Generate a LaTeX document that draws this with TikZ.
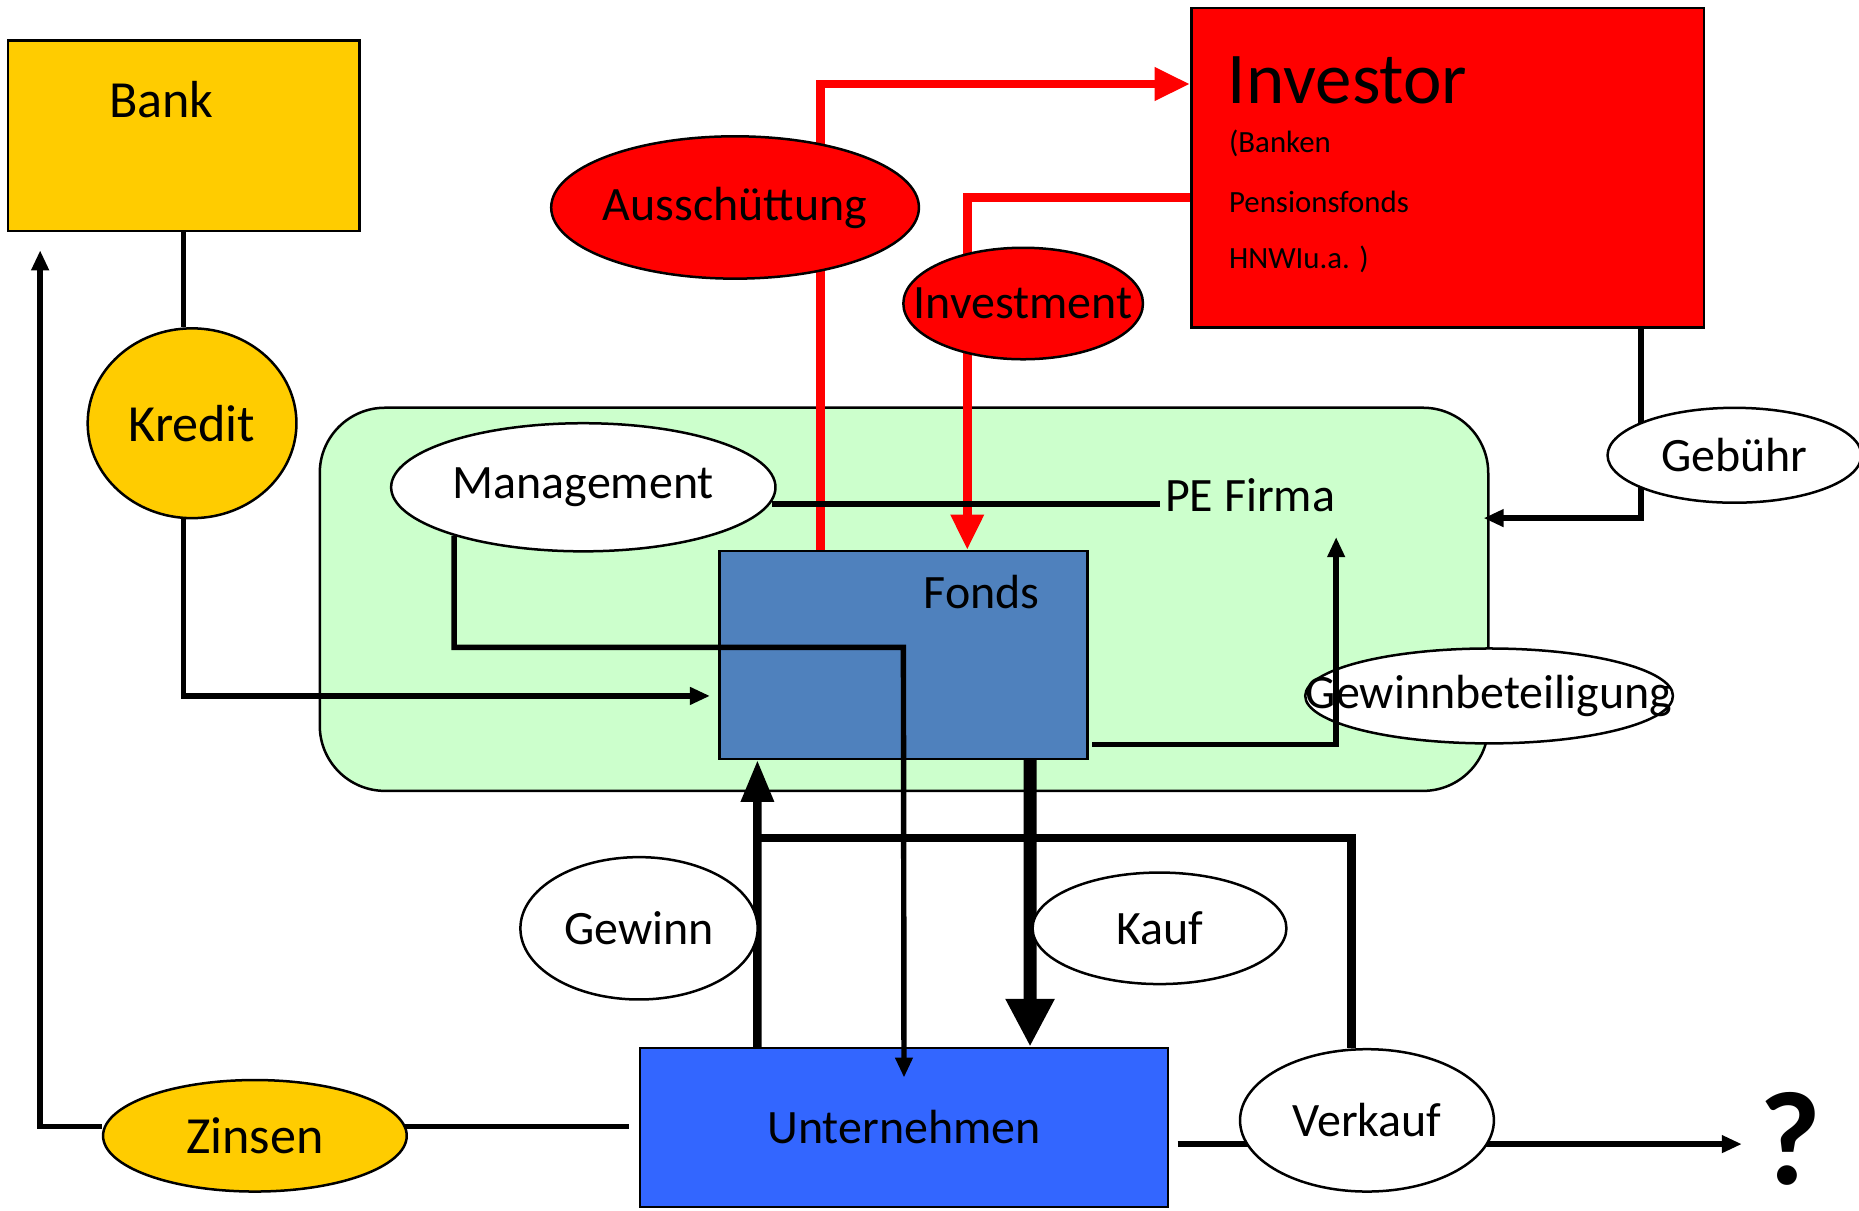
\documentclass[tikz,border=0pt]{standalone}
\usepackage{fontspec}
\setmainfont{Carlito}
\usepackage{tikz}
\usetikzlibrary{arrows.meta,shapes.geometric,calc}
\definecolor{bankgelb}{HTML}{FFCC00}
\definecolor{investrot}{HTML}{FF0000}
\definecolor{pegruen}{HTML}{CCFFCC}
\definecolor{fondsblau}{HTML}{4F81BD}
\definecolor{firmablau}{HTML}{3366FF}
\pgfdeclarelayer{hinten}
\pgfdeclarelayer{vorne}
\pgfsetlayers{hinten,main,vorne}
\tikzset{
	kasten/.style={draw=black,line width=0.6pt,rectangle,inner sep=0pt},
	schrift/.style={inner sep=0pt,font=\fontsize{11.5}{14}\selectfont},
	oval/.style={draw=black,line width=0.6pt,ellipse,inner sep=0pt,fill=white,font=\fontsize{11.5}{14}\selectfont,
		execute at begin node={\hbox to 0pt\bgroup\hss\lower1pt\hbox\bgroup},execute at end node={\egroup\hss\egroup}},
	verb/.style={line width=1.3pt},
	pfeil/.style={verb,->},
	rotpfeil/.style={-{Triangle[length=8.5pt,width=7.5pt]},draw=red,line width=2.1pt},
	dick/.style={line width=2pt},
	dickpfeil/.style={dick,-{Triangle[length=10pt,width=7.5pt]}},
	kaufpfeil/.style={-{Triangle[length=11.5pt,width=11pt]},line width=3.1pt}
}

\begin{document}
\begin{tikzpicture}[>={Triangle[length=4.8pt,width=4pt]},x=0.01cm,y=-0.01cm]
		\useasboundingbox (0,0) rectangle (1568,1021);
		%Kaesten
		\begin{pgfonlayer}{hinten}
		\node[kasten,fill=pegruen,rounded corners=0.55cm,minimum width=9.85cm,minimum height=3.23cm] (pe) at (762.5,505.5) {};
		\node[kasten,fill=bankgelb,minimum width=2.96cm,minimum height=1.61cm] (bank) at (155,114.5) {};
		\node[kasten,fill=investrot,minimum width=4.32cm,minimum height=2.69cm] (investor) at (1221,141.5) {};
		\node[kasten,fill=fondsblau,minimum width=3.10cm,minimum height=1.75cm] (fonds) at (762,552.5) {};
		\node[kasten,fill=firmablau,minimum width=4.45cm,minimum height=1.34cm,schrift] (untern) at (762.5,951) {Unternehmen};
		\node[schrift,font=\fontsize{12.5}{15}\selectfont] (banktext) at (136,84) {Bank};
		\node[schrift,font=\fontsize{17.5}{21}\selectfont,anchor=west] (invtext) at (1035,68) {Investor};
		\node[schrift,font=\fontsize{7.4}{9}\selectfont,anchor=west] (banken) at (1036,121) {(Banken};
		\node[schrift,font=\fontsize{7.4}{9}\selectfont,anchor=west] (pension) at (1036,170) {Pensionsfonds};
		\node[schrift,font=\fontsize{7.4}{9}\selectfont,anchor=west] (hnwi) at (1036,219) {HNWIu.a. )};
		\node[schrift,anchor=west] (petext) at (982,418) {PE Firma};
		\node[schrift] (fondstext) at (828,499) {Fonds};
		\node[schrift,font=\fontsize{32}{34}\selectfont\bfseries] (frage) at (1510,961) {?};
		\end{pgfonlayer}
		%Ellipsen
		\begin{pgfonlayer}{vorne}
		\node[oval,fill=bankgelb,minimum width=1.76cm,minimum height=1.60cm,font=\fontsize{12.5}{15}\selectfont] (kredit) at (162,357) {Kredit};
		\node[oval,fill=bankgelb,minimum width=2.56cm,minimum height=0.94cm,font=\fontsize{12.5}{15}\selectfont] (zinsen) at (215,958) {Zinsen};
		\node[oval,fill=investrot,minimum width=3.10cm,minimum height=1.20cm] (aus) at (620,175) {Ausschüttung};
		\node[oval,fill=investrot,minimum width=2.02cm,minimum height=0.94cm] (invest) at (863,256) {Investment};
		\node[oval,minimum width=3.24cm,minimum height=1.08cm] (mgmt) at (492,411) {Management};
		\node[oval,minimum width=2.14cm,minimum height=0.80cm] (gebuehr) at (1463,384) {Gebühr};
		\node[oval,minimum width=2.00cm,minimum height=1.20cm] (gewinn) at (539,783) {Gewinn};
		\node[oval,minimum width=2.14cm,minimum height=0.94cm] (kauf) at (978,783) {Kauf};
		\node[oval,minimum width=2.14cm,minimum height=1.20cm] (verkauf) at (1153,945) {Verkauf};
		\end{pgfonlayer}
		\node[oval,minimum width=3.10cm,minimum height=0.80cm] (gewbet) at (1256,587) {Gewinnbeteiligung};
		%Verbindungen
		\draw[verb] (bank.south) -- (bank.south |- kredit.north);
		\draw[pfeil] (bank.south |- kredit.south) |- ($(fonds.west)+(-7,34.5)$);
		\draw[pfeil] ($(zinsen.west)+(0,-8)$) -| ($(bank.south west)+(28,15)$);
		\draw[verb] ($(zinsen.east)+(-3,-8)$) -- ($(untern.west)+(-8,-1)$);
		\draw[rotpfeil] ($(fonds.north west)+(86,0)$) |- ($(investor.north west)+(0,65)$);
		\draw[rotpfeil] ($(investor.north west)+(0,161)$) -| ($(fonds.north west)+(210,0)$);
		\draw[verb] ($(mgmt.east)+(-4,14)$) -- ($(petext.west)+(-4,7)$);
		\draw[pfeil] ($(mgmt.south)+(-109,-14)$) |- ($(fonds.center)+(0,-6.5)$) -- ($(untern.north)+(0,26)$);
		\draw[pfeil] ($(fonds.south east)+(3,-13)$) -| ($(petext.west)+(145,35)$);
		\draw[pfeil] ($(investor.south east)+(-54,0)$) |- ($(pe.east)+(-5,-68.5)$);
		\draw[dickpfeil] ($(untern.north west)+(100,0)$) -- ($(fonds.south west)+(33,0)$);
		\draw[dick] ($(untern.north west)+(100,-176)$) -| ($(verkauf.north)+(-13,0)$);
		\draw[kaufpfeil] ($(fonds.south west)+(263,0)$) -- ($(untern.north west)+(330,0)$);
		\draw[pfeil] ($(untern.east)+(7,14)$) -- ($(frage.west)+(-14,4)$);
\end{tikzpicture}
\end{document}
